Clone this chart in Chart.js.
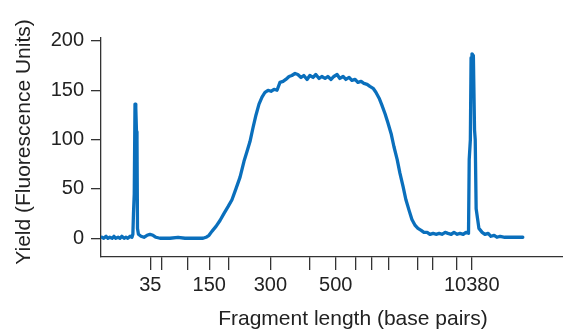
<!DOCTYPE html>
<html>
<head>
<meta charset="utf-8">
<script src="https://cdn.jsdelivr.net/npm/chart.js@4"></script>
<style>
html,body{margin:0;padding:0;background:#fff;}
#wrap{width:563px;height:331px;}
</style>
</head>
<body>
<div id="wrap"><canvas id="traceChart"></canvas></div>
<script>
// migration position (relative units, 0-100) of each ladder band
const ladderPos=[10.67,13.14,18.77,23.44,27.64,36.65,45.17,50.80,55.13,58.59,62.19,68.46,71.71,76.99,80.24];
const ladderSizes=[35,50,100,150,200,300,400,500,600,700,1000,2000,3000,7000,10380];
const shownSizes=[35,150,300,500,10380];
const yTicks=[0,50,100,150,200];

// electropherogram trace: position and fluorescence
const tracePos=[0.2,0.6,1.1,1.5,1.9,2.4,2.8,3.2,3.7,4.1,4.5,5.0,5.4,5.8,6.3,6.7,6.9,7.03,7.2,7.36,7.53,7.68,7.79,7.9,8.1,8.66,9.3,9.96,10.6,11.26,11.9,12.77,14.94,16.67,18.18,20.35,22.08,22.73,23.38,24.0,24.9,25.76,26.6,27.5,28.35,29.2,30.1,30.95,31.6,32.25,32.9,33.55,34.2,34.85,35.5,36.15,36.8,37.45,38.1,38.74,39.4,40.0,40.7,41.3,42.0,42.6,43.3,43.9,44.6,45.2,45.9,46.5,47.2,47.8,48.5,49.1,49.8,50.4,51.1,51.7,52.4,53.0,53.7,54.3,55.0,55.6,56.3,56.9,57.6,58.2,58.9,59.5,60.2,60.8,61.5,62.1,62.8,63.4,64.1,64.7,65.4,66.0,66.7,67.3,68.0,68.6,69.3,69.9,70.6,71.2,71.9,72.5,73.2,73.8,74.5,75.1,75.8,76.4,77.1,77.7,78.4,79.0,79.55,79.7,79.95,80.1,80.3,80.6,80.85,81.0,81.2,81.5,81.8,82.5,83.1,83.8,84.4,85.1,85.7,86.4,87.4,89.0,90.3,91.3];
const traceFU=[1,0,2,0,1,0,2,0,1,0,2,0,1,0,2,1,4,25,45,136,132,108,100,10,4,2,1,3,4,3,1,0,0,1,0,0,0,1,3,7,12,18,25,32,39,50,62,78,88,98,112,125,136,143,148,150,149,151,150,158,159,161,164,165,167,166,163,165,161,165,163,166,162,164,162,164,161,164,166,162,164,161,163,160,161,158,159,157,156,154,152,148,142,135,126,117,106,93,80,66,52,39,28,19,13,10,8,6,6,4,5,4,5,4,6,5,4,6,4,5,4,6,5,80,100,183,187,185,110,100,30,20,10,6,4,5,2,3,1,2,1,1,1,1];

const axisColor='#333';
const textColor='#222';
const fontFamily='"Liberation Sans", Arial, sans-serif';

const titlePlugin={
    id:'axisTitles',
    afterDraw(chart){
        const c=chart.ctx;
        c.save();
        c.fillStyle=textColor;
        c.font='21px '+fontFamily;
        c.textAlign='center';
        c.textBaseline='middle';
        c.fillText('Fragment length (base pairs)',353,319);
        c.translate(24,142);
        c.rotate(-Math.PI/2);
        c.fillText('Yield (Fluorescence Units)',0,0);
        c.restore();
    }
};

function drawTrace(){
    const ctx=document.getElementById("traceChart").getContext("2d");
    new Chart(ctx,{
        type:'line',
        data:{datasets:[{
            data:tracePos.map((x,i)=>({x:x,y:traceFU[i]})),
            borderColor:'#0a6fbc',
            borderWidth:3.3,
            borderJoinStyle:'round',
            borderCapStyle:'round',
            pointRadius:0,
            tension:0,
            fill:false
        }]},
        options:{
            responsive:true,
            maintainAspectRatio:false,
            animation:false,
            layout:{padding:{top:38,right:0,left:0,bottom:0}},
            plugins:{legend:{display:false},tooltip:{enabled:false}},
            scales:{
                x:{
                    type:'linear',min:0,max:100,
                    afterBuildTicks:s=>{s.ticks=ladderPos.map(v=>({value:v}));},
                    afterFit:s=>{s.height=74;},
                    grid:{display:true,drawOnChartArea:false,drawTicks:true,tickLength:13,color:axisColor,lineWidth:1.3},
                    border:{display:true,color:axisColor,width:1.3},
                    ticks:{
                        autoSkip:false,maxRotation:0,padding:3,
                        color:textColor,font:{size:20,family:fontFamily},
                        callback:(v,i)=>shownSizes.includes(ladderSizes[i])?String(ladderSizes[i]):''
                    }
                },
                y:{
                    min:-19,max:203,
                    afterBuildTicks:s=>{s.ticks=yTicks.map(v=>({value:v}));},
                    afterFit:s=>{s.width=101;},
                    grid:{display:true,drawOnChartArea:false,drawTicks:true,tickLength:10,color:axisColor,lineWidth:1.3},
                    border:{display:true,color:axisColor,width:1.3},
                    ticks:{padding:7,color:textColor,font:{size:20,family:fontFamily}}
                }
            }
        },
        plugins:[titlePlugin]
    });
}

drawTrace();
</script>
</body>
</html>
